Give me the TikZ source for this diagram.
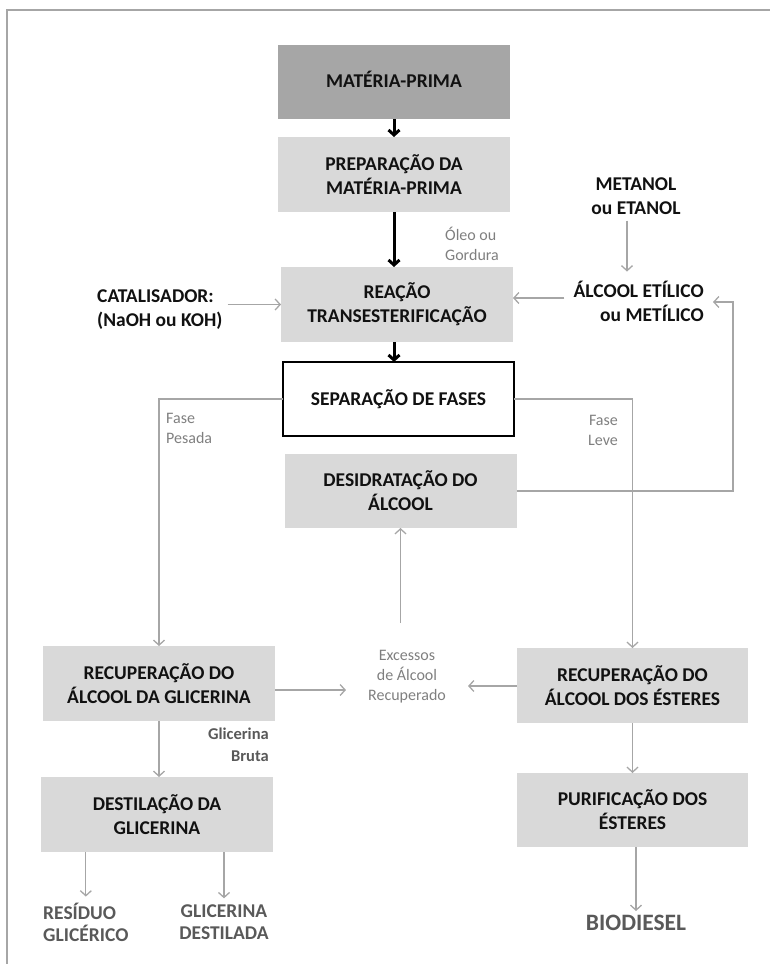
\documentclass[tikz,border=0pt]{standalone}
\usepackage{fontspec}
\setmainfont{Carlito}
\usetikzlibrary{arrows.meta}
\definecolor{boxgray}{HTML}{D9D9D9}
\definecolor{headgray}{HTML}{A6A6A6}
\definecolor{linegray}{HTML}{A6A6A6}
\definecolor{notegray}{HTML}{7F7F7F}
\definecolor{outgray}{HTML}{595959}
\definecolor{ink}{HTML}{111111}

\begin{document}
\begin{tikzpicture}[x=1pt,y=-1pt,
  stage/.style={fill=boxgray, minimum width=232pt, minimum height=75pt,
    inner sep=0pt, outer sep=0pt, align=center, text=ink,
    font=\bfseries\fontsize{19.5}{24}\selectfont},
  feed/.style={align=center, text=ink, inner sep=6pt,
    font=\bfseries\fontsize{19.5}{24}\selectfont},
  note/.style={text=notegray, inner sep=0pt,
    font=\fontsize{16}{20}\selectfont},
  product/.style={text=outgray, inner sep=6pt,
    font=\bfseries\fontsize{19.5}{22}\selectfont},
  mainflow/.style={black, line width=3pt,
    -{Straight Barb[length=5pt,width=11pt]}},
  sideflow/.style={linegray, line width=1.3pt,
    -{Straight Barb[length=5pt,width=11pt]}}
]
\useasboundingbox (0,0) rectangle (770,964);
% page frame
\draw[linegray, line width=2pt] (7,964) -- (7,10) -- (770,10);

% process stages
\node[stage, fill=headgray, minimum height=74pt] (mat) at (394,82) {\raisebox{5pt}{MATÉRIA-PRIMA}};
\node[stage] (prep) at (394,174.5) {PREPARAÇÃO DA\\MATÉRIA-PRIMA};
\node[stage] (reac) at (397,304.5) {REAÇÃO\\TRANSESTERIFICAÇÃO};
\node[stage, fill=white, draw=black, line width=2pt, minimum width=231pt, minimum height=74pt] (sep) at (398.5,399) {SEPARAÇÃO DE FASES};
\node[stage, minimum height=74pt] (desid) at (400.5,491) {DESIDRATAÇÃO DO\\ÁLCOOL};
\node[stage] (recG) at (159,683.5) {RECUPERAÇÃO DO\\ÁLCOOL DA GLICERINA};
\node[stage] (dest) at (157,814.5) {DESTILAÇÃO DA\\GLICERINA};
\node[stage, minimum width=231pt] (recE) at (632.5,685.5) {RECUPERAÇÃO DO\\ÁLCOOL DOS ÉSTERES};
\node[stage, minimum width=231pt, minimum height=74pt] (puri) at (632.5,810) {PURIFICAÇÃO DOS\\ÉSTERES};

% inputs
\node[feed, align=left, anchor=west, inner sep=5pt] (catal) at (92,309.5) {CATALISADOR:\\(NaOH ou KOH)};
\node[feed] (metanol) at (636,196) {METANOL\\ou ETANOL};
\node[feed, align=right, anchor=east, inner sep=9pt] (alcool) at (713,301) {ÁLCOOL ETÍLICO\\ou METÍLICO};

% stream annotations
\node[note, align=left, anchor=west] (oleo) at (445,244) {Óleo ou\\Gordura};
\node[note, align=left, anchor=west] (pesada) at (166,428) {Fase\\Pesada};
\node[note, align=right, anchor=east] (leve) at (618,430) {Fase\\Leve};
\node[note, align=center, inner xsep=22pt] (exc) at (407,677) {Excessos\\de Álcool\\Recuperado};
\node[note, align=right, anchor=east, text=outgray, font=\bfseries\fontsize{16.5}{22}\selectfont] (bruta) at (269,745) {Glicerina\\Bruta};

% products
\node[product, align=left, anchor=west, inner xsep=0pt] (resid) at (43,922) {RESÍDUO\\GLICÉRICO};
\node[product, align=center] (glicd) at (224,922) {GLICERINA\\DESTILADA};
\node[product, font=\bfseries\fontsize{23.5}{26}\selectfont, inner sep=4pt] (bio) at (636,923) {BIODIESEL};

\coordinate (loopR) at (733,302);
\coordinate (excTop) at (400.5,623);

% main line
\draw[mainflow] (mat.south) -- (prep.north);
\draw[mainflow] (prep.south) -- (prep.south |- reac.north);
\draw[mainflow] (reac.south -| prep.south) -- (sep.north -| prep.south);

% reagents
\draw[sideflow] (catal.east |- reac.west) -- (reac.west);
\draw[sideflow] ([xshift=-9pt]metanol.south) -- ([xshift=-9pt]metanol.south |- alcool.north);
\draw[sideflow] (alcool.west |- 0,298) -- (reac.east |- 0,298);

% phase split
\draw[sideflow] (sep.west) -| (recG.north);
\draw[sideflow] (sep.east) -| (recE.north);

% alcohol recycle
\draw[sideflow] (desid.east) -| (loopR) -- (loopR -| alcool.east);
\draw[sideflow] (excTop) -- (desid.south);
\draw[sideflow] (recG.east |- 0,690) -- (exc.west |- 0,690);
\draw[sideflow] (recE.west |- 0,686) -- (exc.east |- 0,686);

% downstream
\draw[sideflow] (recG.south) -- (recG.south |- dest.north);
\draw[sideflow] (recE.south) -- (puri.north);
\draw[sideflow] (dest.south -| resid.north) -- (resid.north);
\draw[sideflow] (dest.south -| glicd.north) -- (glicd.north);
\draw[sideflow] (puri.south -| bio.north) -- (bio.north);
\end{tikzpicture}
\end{document}
